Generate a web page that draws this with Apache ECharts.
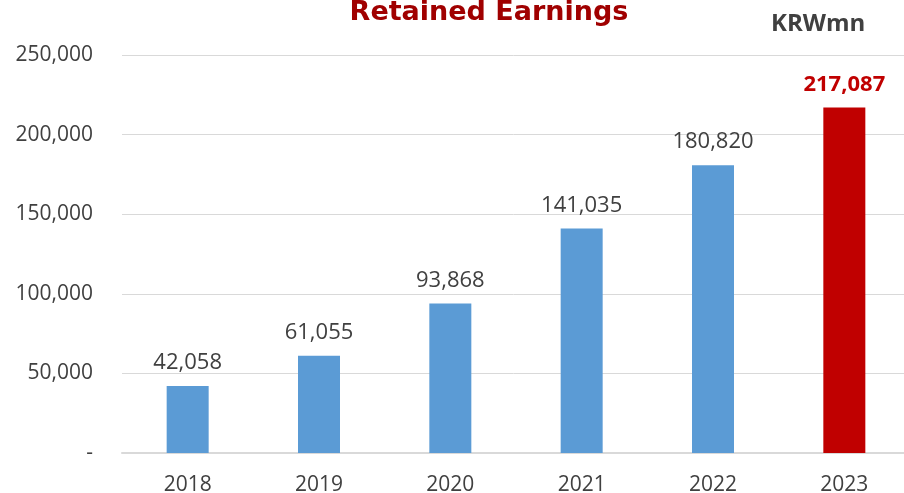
<!DOCTYPE html>
<html>
<head>
<meta charset="utf-8">
<script src="https://cdn.jsdelivr.net/npm/echarts@6/dist/echarts.min.js"></script>
<style>
  html, body { margin: 0; padding: 0; background: #fff; }
  #chart { width: 904px; height: 493px; }
</style>
</head>
<body>
<div id="chart"></div>
<script>
var years = ['2018', '2019', '2020', '2021', '2022', '2023'];
var earnings = [42058, 61055, 93868, 141035, 180820, 217087];
var barColors = ['#5B9BD5', '#5B9BD5', '#5B9BD5', '#5B9BD5', '#5B9BD5', '#C00000'];

var chart = echarts.init(document.getElementById('chart'));

var option = {
    backgroundColor: '#fff',
    animation: false,
    title: [{
        text: 'Retained Earnings',
        left: 484, top: -6, textAlign: 'center',
        textStyle: { color: '#A00000', fontSize: 27, fontWeight: 'bold', fontFamily: 'DejaVu Sans' }
    }, {
        text: 'KRWmn',
        left: 766, top: 7,
        textStyle: { color: '#404040', fontSize: 24, fontWeight: 'bold', fontFamily: 'Open Sans' }
    }],
    grid: { left: 122, right: -6, top: 55, bottom: 40, containLabel: false, outerBoundsMode: 'none' },
    xAxis: {
        type: 'category',
        data: years,
        axisLine: { lineStyle: { color: '#D9D9D9', width: 2 } },
        axisTick: { show: false },
        axisLabel: { color: '#404040', fontSize: 21, fontFamily: 'Open Sans', margin: 22 }
    },
    yAxis: {
        type: 'value',
        min: 0, max: 250000, interval: 50000,
        axisLine: { show: false },
        axisTick: { show: false },
        splitLine: { lineStyle: { color: '#D9D9D9', width: 1 } },
        axisLabel: {
            color: '#404040', fontSize: 21, fontFamily: 'Open Sans', margin: 29,
            formatter: function (v) { return v === 0 ? '-' : v.toLocaleString('en-US'); }
        }
    },
    series: [{
        type: 'bar',
        barWidth: 42,
        data: earnings.map(function (v, i) {
            var last = i === earnings.length - 1;
            return {
                value: v,
                itemStyle: { color: barColors[i] },
                label: last ? { color: '#C00000', fontWeight: 'bold', fontSize: 22 } : {}
            };
        }),
        label: {
            show: true, position: 'top', distance: 12,
            color: '#404040', fontSize: 22, fontFamily: 'Open Sans',
            formatter: function (p) { return p.value.toLocaleString('en-US'); }
        }
    }]
};

chart.setOption(option);
</script>
</body>
</html>
